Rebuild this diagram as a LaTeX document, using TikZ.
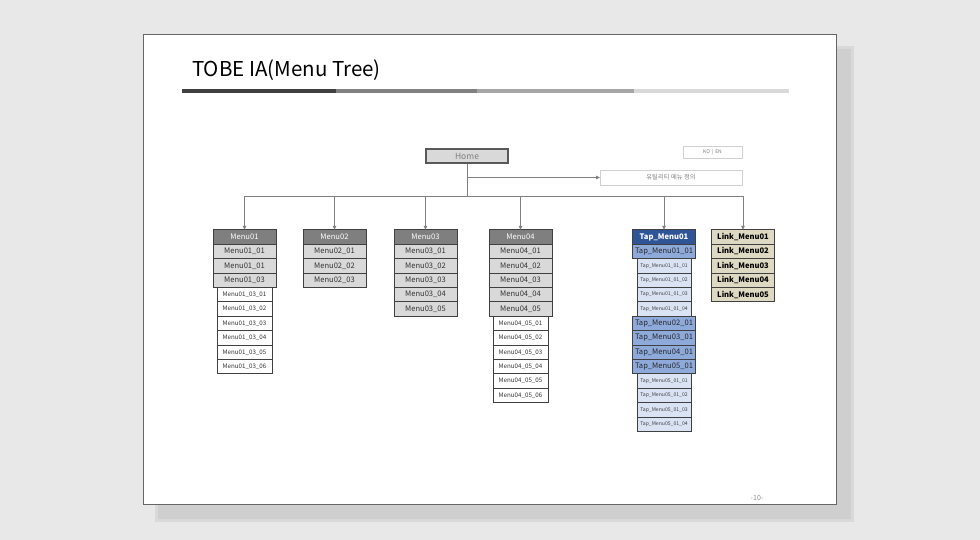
\documentclass[tikz,border=0pt]{standalone}
\usepackage{fontspec}
\setmainfont{Noto Sans CJK KR}
\usepackage{tikz}
\usetikzlibrary{positioning,arrows.meta}
\definecolor{bgray}{HTML}{E8E8E8}
\definecolor{shadowgray}{HTML}{CFCFCF}
\definecolor{boxline}{HTML}{404040}
\definecolor{headgray}{HTML}{7F7F7F}
\definecolor{itemgray}{HTML}{D9D9D9}
\definecolor{tapdark}{HTML}{2F5597}
\definecolor{tapmid}{HTML}{8EAADB}
\definecolor{taplight}{HTML}{DAE3F3}
\definecolor{linkbeige}{HTML}{DDD9C3}
\definecolor{thinline}{HTML}{D0D0D0}

\tikzset{
  box/.style={draw=boxline, line width=0.7pt, minimum width=63pt, minimum height=14.4pt,
    inner sep=0pt, outer sep=0pt, font=\fontsize{7.6}{8}\selectfont},
  headbox/.style={box, fill=headgray, text=white},
  itembox/.style={box, fill=itemgray, text=black!80},
  subbox/.style={box, fill=white, minimum width=55pt, font=\fontsize{6.2}{7}\selectfont, text=black!80},
  tapbox/.style={box, fill=tapmid, text=black!85},
  tapsub/.style={box, fill=taplight, minimum width=54pt, font=\fontsize{5.1}{6}\selectfont, text=black!75},
  linkbox/.style={box, fill=linkbeige, font=\fontsize{7.6}{8}\selectfont\bfseries},
  infobox/.style={draw=thinline, line width=0.6pt, fill=white, inner sep=0pt, outer sep=0pt, text=black!50},
  link/.style={draw=headgray, line width=0.8pt},
  arr/.style={link, -{Triangle[length=4pt,width=3.5pt]}, headgray}
}

\begin{document}
\begin{tikzpicture}[x=1pt, y=-1pt]
  % page and background
  \fill[bgray] (0,0) rectangle (980,540);
  \fill[shadowgray!60!bgray] (155,46) rectangle (854,522);
  \fill[shadowgray] (158,49) rectangle (851,519);
  \draw[fill=white, draw=black!60, line width=0.6pt] (143,34) rectangle (836,504);
  \useasboundingbox (0,0) rectangle (980,540);

  % title
  \node[anchor=west, inner sep=0pt, font=\fontsize{20.5}{24}\selectfont] (title) at (192,70) {TOBE IA(Menu Tree)};
  \fill[black!75] (182,89) rectangle (336,93);
  \fill[black!50] (336,89) rectangle (477,93);
  \fill[black!35] (477,89) rectangle (634,93);
  \fill[black!15] (634,89) rectangle (789,93);

  % top level
  \node[draw=black!65, line width=1.2pt, fill=itemgray, text=black!50, minimum width=82pt,
    minimum height=14pt, inner sep=0pt, font=\fontsize{8.5}{9}\selectfont] (home) at (467,156) {Home};
  \node[infobox, minimum width=59pt, minimum height=12pt, font=\fontsize{5}{6}\selectfont] (lang) at (712.5,152) {KO \,|\, EN};
  \node[infobox, minimum width=142pt, minimum height=15pt, font=\fontsize{6.3}{7}\selectfont] (util) at (671,177.5) {유틸리티 메뉴 정의};
  \coordinate (hub) at (467,196);

  % Menu01
  \node[headbox] (m1) at (244.5,237) {Menu01};
  \node[itembox] (m1a) at (244.5,251.4) {Menu01\_01};
  \node[itembox] (m1b) at (244.5,265.8) {Menu01\_01};
  \node[itembox] (m1c) at (244.5,280.2) {Menu01\_03};
  \foreach \i in {1,...,6}
    \node[subbox] (m1c\i) at (244.5,280.2+14.4*\i) {Menu01\_03\_0\i};

  % Menu02
  \node[headbox] (m2) at (334.5,237) {Menu02};
  \foreach \i in {1,...,3}
    \node[itembox] (m2\i) at (334.5,237+14.4*\i) {Menu02\_0\i};

  % Menu03
  \node[headbox] (m3) at (425.5,237) {Menu03};
  \foreach \i in {1,...,5}
    \node[itembox] (m3\i) at (425.5,237+14.4*\i) {Menu03\_0\i};

  % Menu04
  \node[headbox] (m4) at (520.5,237) {Menu04};
  \foreach \i in {1,...,5}
    \node[itembox] (m4\i) at (520.5,237+14.4*\i) {Menu04\_0\i};
  \foreach \i in {1,...,6}
    \node[subbox] (m45\i) at (520.5,309+14.4*\i) {Menu04\_05\_0\i};

  % Tap menus
  \node[box, fill=tapdark, text=white, font=\fontsize{7.6}{8}\selectfont\bfseries] (tap) at (664,237) {Tap\_Menu01};
  \node[tapbox] (tap1) at (664,251.4) {Tap\_Menu01\_01};
  \foreach \i in {1,...,4}
    \node[tapsub] (tap1\i) at (664,251.4+14.4*\i) {Tap\_Menu01\_01\_0\i};
  \foreach \k in {2,...,5}
    \node[tapbox] (tap\k) at (664,309+14.4*\k-14.4) {Tap\_Menu0\k\_01};
  \foreach \i in {1,...,4}
    \node[tapsub] (tap5\i) at (664,366.6+14.4*\i) {Tap\_Menu05\_01\_0\i};

  % Link menus
  \node[linkbox] (lk) at (743,237) {Link\_Menu01};
  \foreach \i in {2,...,5}
    \node[linkbox] (lk\i) at (743,237+14.4*\i-14.4) {Link\_Menu0\i};

  % connectors
  \draw[link] (home) -- (hub);
  \draw[arr] (home.south |- util) -- (util.west);
  \draw[link] (hub -| m1) -- (hub -| lk);
  \foreach \c in {m1,m2,m3,m4,tap,lk}
    \draw[arr] (hub -| \c) -- (\c.north);

  % page number
  \node[text=black!45, font=\fontsize{7}{8}\selectfont] (pageno) at (757,498) {-10-};
\end{tikzpicture}
\end{document}
